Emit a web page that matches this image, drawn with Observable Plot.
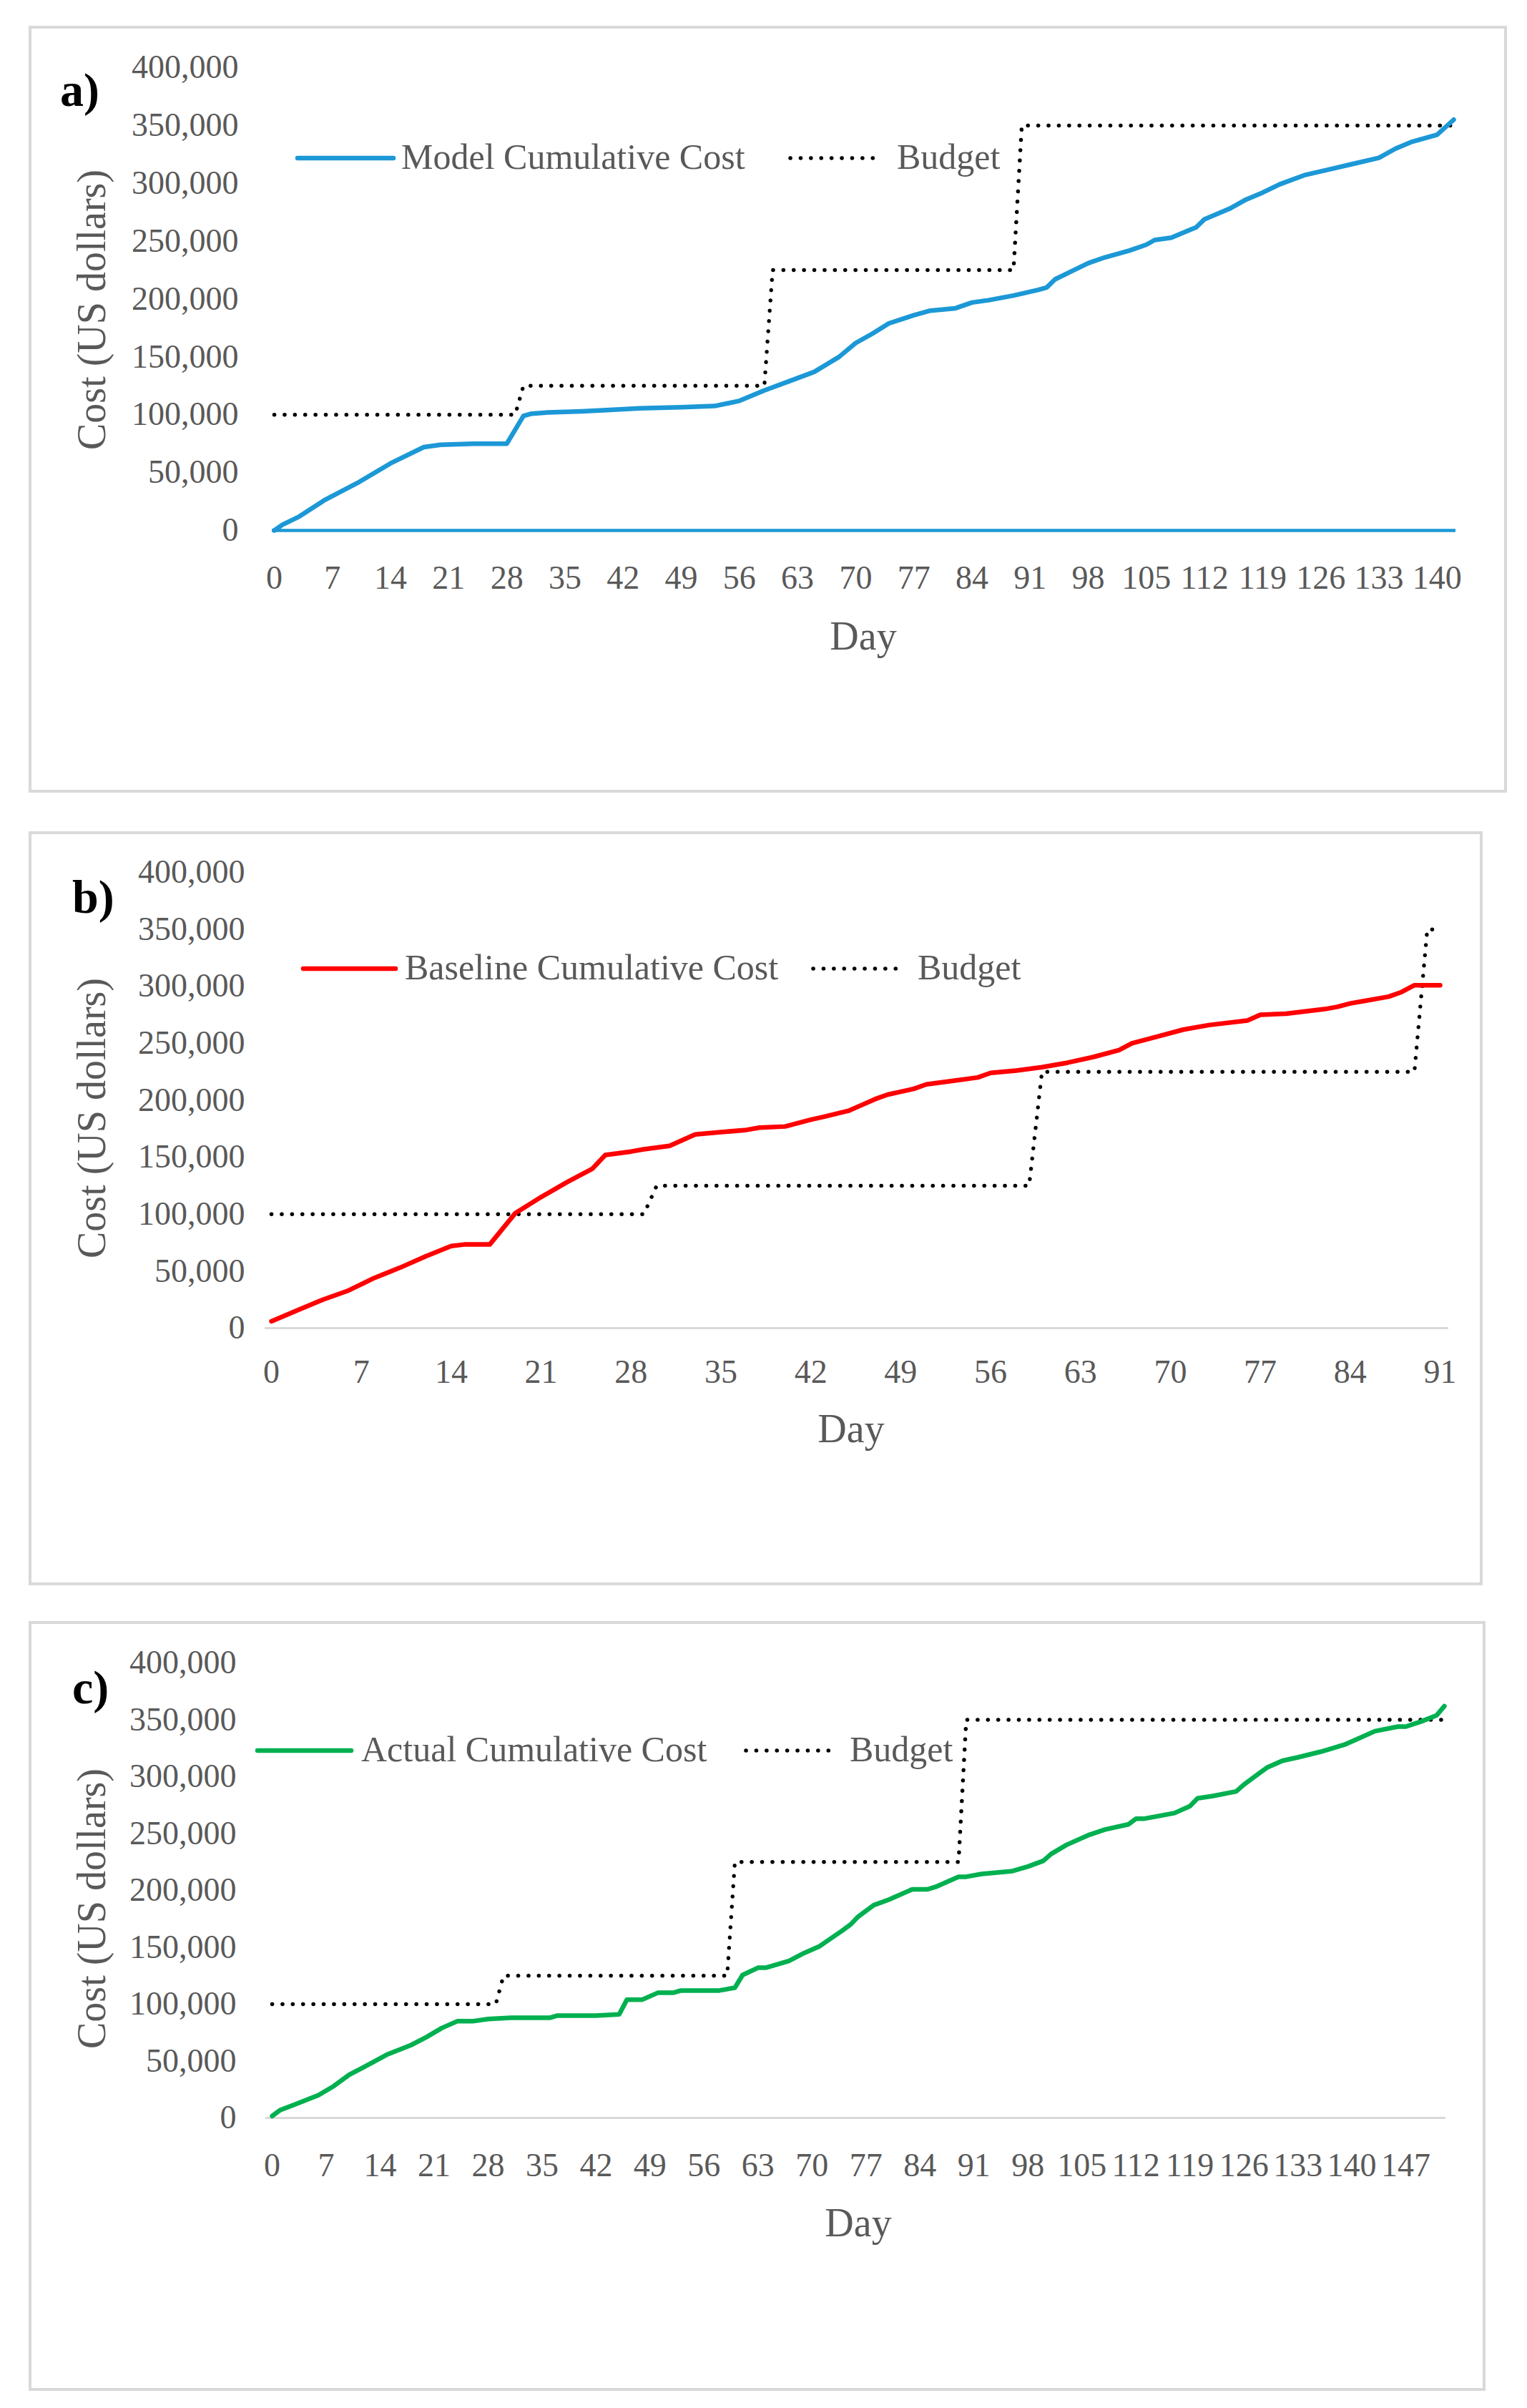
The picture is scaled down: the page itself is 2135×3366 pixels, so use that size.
<!DOCTYPE html>
<html>
<head>
<meta charset="utf-8">
<script src="https://cdn.jsdelivr.net/npm/d3@7"></script>
<script src="https://cdn.jsdelivr.net/npm/@observablehq/plot@0.6"></script>
<style>
  body { margin: 0; background: #fff; }
  #page { position: relative; width: 2135px; height: 3366px; background: #fff; overflow: hidden; }
  .box { position: absolute; border: 4px solid #d9d9d9; box-sizing: border-box; }
  .plot { position: absolute; left: 0; }
  #overlay { position: absolute; left: 0; top: 0; pointer-events: none; }
</style>
</head>
<body>
<div id="page">
  <div class="box" style="left:40px;top:36px;width:2067px;height:1072px"></div>
  <div class="box" style="left:40px;top:1162px;width:2033px;height:1054px"></div>
  <div class="box" style="left:40px;top:2266px;width:2037px;height:1076px"></div>
</div>
<script>
// ---------- Data ----------
// Panel a) Model cumulative cost
const daysA = [0,1,3,6,10,14,18,20,24,28,30,31,33,37,40,44,49,53,56,59,62,65,68,70,72,74,77,79,82,84,86,89,92,93,94,96,98,100,103,105,106,108,110,111,112,115,117,119,121,124,127,130,133,135,137,140,142];
const costA = [0,5000,12000,26000,41000,58000,72000,74000,75000,75000,99000,101000,102000,103000,104000,105500,106500,107500,112000,121000,129000,137000,150000,162000,170000,179000,186000,190000,192000,197000,199000,203000,208000,210000,217000,224000,231000,236000,242000,247000,251000,253000,259000,262000,269000,278000,286000,292000,299000,307000,312000,317000,322000,330000,336000,342000,355000];
const budgetDaysA = [0,29,30,59,60,89,90,142];
const budgetA = [100000,100000,125000,125000,225000,225000,350000,350000];

// Panel b) Baseline cumulative cost
const daysB = [0,2,4,6,8,10,12,14,15,17,19,21,23,25,26,28,29,31,33,35,37,38,40,42,43,45,46,47,48,50,51,53,55,56,58,60,62,64,66,67,69,71,73,76,77,79,82,83,84,85,87,88,89,91];
const costB = [6000,15500,25000,33000,44000,53000,63000,72000,73400,73400,101000,115000,128000,140000,152000,155000,157000,160000,170000,172000,174000,176000,177000,183000,185500,191000,196000,201000,205000,210000,214000,217000,220000,224000,226000,229000,233000,238000,244000,250000,256000,262000,266000,270000,275000,276000,280000,282000,285000,287000,291000,295000,301000,301000];
const budgetDaysB = [0,29,30,59,60,89,90,91];
const budgetB = [100000,100000,125000,125000,225000,225000,350000,350000];

// Panel c) Actual cumulative cost
const daysC = [0,1,3,6,8,10,12,15,18,20,22,24,26,28,31,36,37,42,45,46,48,50,52,53,58,60,61,63,64,67,69,71,74,75,76,78,80,83,85,86,89,90,92,96,98,100,101,103,106,108,111,112,113,117,119,120,122,125,126,128,129,131,133,136,137,139,141,143,146,147,149,151,152];
const costC = [1700,6700,12000,20000,28000,38000,45000,56000,64000,71000,79000,85000,85000,87000,88000,88000,90000,90000,91000,104000,104000,110000,110000,112000,112000,114500,125600,132000,132000,138000,145000,151000,165000,170000,177000,187000,192000,201000,201000,203000,212000,212000,214500,217000,221000,226000,232000,240000,249000,253500,258000,263000,263000,268000,274000,281000,283000,287000,293000,303000,308000,314000,317000,322000,324000,328000,334000,340000,344000,344000,348500,354000,362000];
const budgetDaysC = [0,29,30,59,60,89,90,152];
const budgetC = [100000,100000,125000,125000,225000,225000,350000,350000];

const yTicks = [0,50000,100000,150000,200000,250000,300000,350000,400000];
const xTicksA = d3.range(0, 141, 7);
const xTicksB = d3.range(0, 92, 7);
const xTicksC = d3.range(0, 148, 7);

const seriesNames = ["Model Cumulative Cost", "Baseline Cumulative Cost", "Actual Cumulative Cost"];
const budgetName = "Budget";
const panelLetters = ["a)", "b)", "c)"];
const yTitle = "Cost (US dollars)";
const xTitle = "Day";

// ---------- Styling ----------
const FONT = "'Liberation Serif','Times New Roman',serif";
const GRAY = "#595959";
const BLUE = "#1C98D6", RED = "#FF0000", GREEN = "#00B050";
const DOT = {stroke: "black", strokeWidth: 5.5, strokeDasharray: "0.1 14.3", strokeLinecap: "round"};

const zip = (xs, ys) => xs.map((x, i) => ({day: x, value: ys[i]}));

const panels = [
  {days: daysA, cost: costA, bd: budgetDaysA, bv: budgetA, color: BLUE, xMax: 142, xTicks: xTicksA,
   top: 0, height: 1000, mt: 94, zeroY: 741, ml: 383, mr: 103, yPad: 50, xPad: 49,
   zero: {stroke: BLUE, strokeWidth: 4.5, insetLeft: -3, insetRight: -3}},
  {days: daysB, cost: costB, bd: budgetDaysB, bv: budgetB, color: RED, xMax: 91, xTicks: xTicksB,
   top: 1150, height: 850, mt: 69, zeroY: 1856 - 1150, ml: 379, mr: 122, yPad: 37, xPad: 44,
   zero: {stroke: "#d9d9d9", strokeWidth: 3, insetLeft: -9, insetRight: -12}},
  {days: daysC, cost: costC, bd: budgetDaysC, bv: budgetC, color: GREEN, xMax: 152, xTicks: xTicksC,
   top: 2250, height: 850, mt: 74, zeroY: 2960 - 2250, ml: 380, mr: 116, yPad: 50, xPad: 49,
   zero: {stroke: "#d9d9d9", strokeWidth: 3, insetLeft: -9, insetRight: -2}}
];

const page = document.getElementById("page");

panels.forEach(p => {
  const chart = Plot.plot({
    width: 2135,
    height: p.height,
    marginTop: p.mt,
    marginBottom: p.height - p.zeroY,
    marginLeft: p.ml,
    marginRight: p.mr,
    x: {domain: [0, p.xMax]},
    y: {domain: [0, 400000]},
    style: {fontFamily: FONT, fontSize: "46px", color: GRAY, background: "none", overflow: "visible"},
    marks: [
      Plot.ruleY([0], p.zero),
      Plot.line(zip(p.bd, p.bv), {x: "day", y: "value", ...DOT}),
      Plot.line(zip(p.days, p.cost), {x: "day", y: "value", stroke: p.color, strokeWidth: 6.5,
        strokeLinejoin: "round", strokeLinecap: "round"}),
      Plot.axisX({ticks: p.xTicks, tickSize: 0, tickPadding: p.xPad, tickFormat: d => String(d), label: null}),
      Plot.axisY({ticks: yTicks, tickSize: 0, tickPadding: p.yPad, tickFormat: d3.format(","), label: null})
    ]
  });
  const wrap = document.createElement("div");
  wrap.className = "plot";
  wrap.style.top = p.top + "px";
  wrap.appendChild(chart);
  page.appendChild(wrap);
});

// ---------- Text overlay: panel letters, axis titles, legends ----------
const svgNS = "http://www.w3.org/2000/svg";
const ov = document.createElementNS(svgNS, "svg");
ov.setAttribute("id", "overlay");
ov.setAttribute("width", 2135);
ov.setAttribute("height", 3366);
page.appendChild(ov);

function el(tag, attrs, text) {
  const e = document.createElementNS(svgNS, tag);
  for (const k in attrs) e.setAttribute(k, attrs[k]);
  if (text != null) e.textContent = text;
  ov.appendChild(e);
  return e;
}

const letterPos = [[84, 148], [101, 1276], [101, 2381]];
const yTitlePos = [[147, 433], [147, 1563], [147, 2668]];
const xTitlePos = [[1207, 908], [1190, 2016], [1200, 3126]];
const legendPos = [
  {y: 221, l1: 416, l2: 550, t: 561, d1: 1105, d2: 1229, bt: 1254},
  {y: 1354, l1: 424, l2: 553, t: 566, d1: 1137, d2: 1259, bt: 1283},
  {y: 2447, l1: 360, l2: 491, t: 505, d1: 1043, d2: 1163, bt: 1188}
];
const colors = [BLUE, RED, GREEN];

for (let i = 0; i < 3; i++) {
  el("text", {x: letterPos[i][0], y: letterPos[i][1], "font-family": FONT, "font-size": 66,
    "font-weight": "bold", fill: "#000"}, panelLetters[i]);
  el("text", {transform: `translate(${yTitlePos[i][0]},${yTitlePos[i][1]}) rotate(-90)`,
    "text-anchor": "middle", "font-family": FONT, "font-size": 56, fill: GRAY}, yTitle);
  el("text", {x: xTitlePos[i][0], y: xTitlePos[i][1], "text-anchor": "middle",
    "font-family": FONT, "font-size": 56, fill: GRAY}, xTitle);
  const L = legendPos[i];
  el("line", {x1: L.l1, x2: L.l2, y1: L.y, y2: L.y, stroke: colors[i], "stroke-width": 6.5,
    "stroke-linecap": "round"});
  el("text", {x: L.t, y: L.y + 15, "font-family": FONT, "font-size": 50, fill: GRAY}, seriesNames[i]);
  el("line", {x1: L.d1, x2: L.d2, y1: L.y, y2: L.y, stroke: "#000", "stroke-width": 5.5,
    "stroke-dasharray": "0.1 14.3", "stroke-linecap": "round"});
  el("text", {x: L.bt, y: L.y + 15, "font-family": FONT, "font-size": 50, fill: GRAY}, budgetName);
}
</script>
</body>
</html>
